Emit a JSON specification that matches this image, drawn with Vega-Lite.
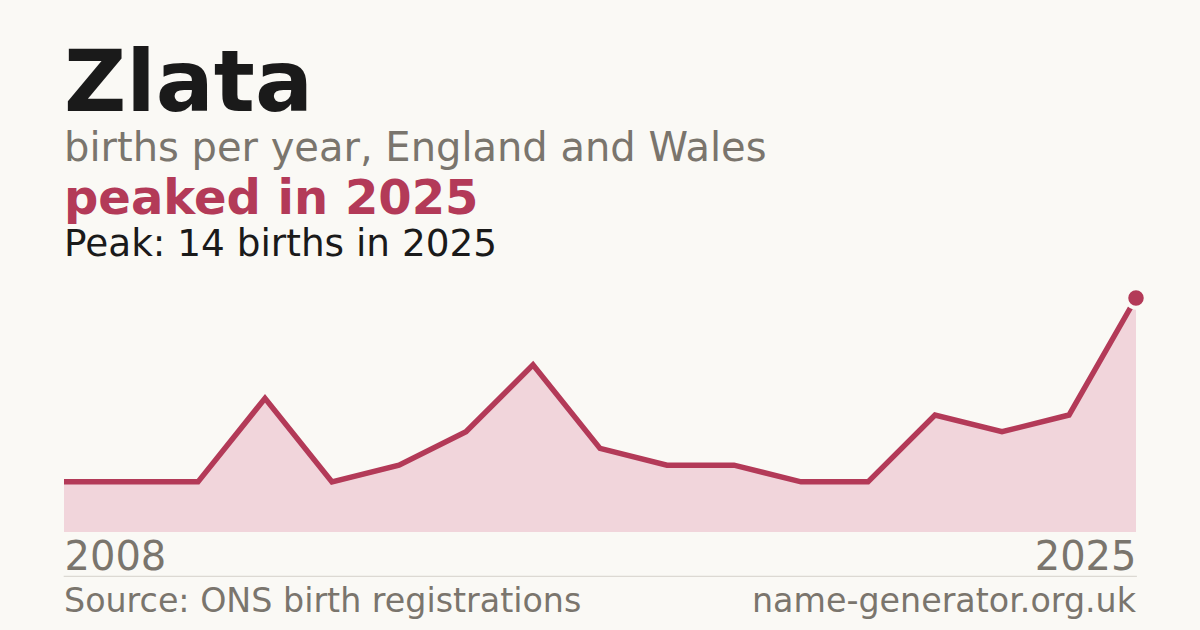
{
  "$schema": "https://vega.github.io/schema/vega-lite/v6.json",
  "description": "Zlata births per year, England and Wales",
  "background": "#faf9f5",
  "padding": {"left": 53, "right": 60, "top": 41, "bottom": 30},
  "config": {
    "view": {"stroke": null},
    "font": "DejaVu Sans"
  },
  "title": {
    "text": "Zlata",
    "subtitle": "births per year, England and Wales",
    "anchor": "start",
    "frame": "group",
    "font": "DejaVu Sans",
    "fontSize": 86,
    "fontWeight": "bold",
    "color": "#1a1a1a",
    "subtitleFont": "DejaVu Sans",
    "subtitleFontSize": 40,
    "subtitleColor": "#7a756d",
    "subtitlePadding": 0,
    "offset": 6
  },
  "datasets": {
    "births": [
      {"year": 2008, "births": 3},
      {"year": 2010, "births": 3},
      {"year": 2011, "births": 3},
      {"year": 2012, "births": 8},
      {"year": 2013, "births": 3},
      {"year": 2014, "births": 4},
      {"year": 2015, "births": 6},
      {"year": 2016, "births": 10},
      {"year": 2017, "births": 5},
      {"year": 2018, "births": 4},
      {"year": 2019, "births": 4},
      {"year": 2020, "births": 3},
      {"year": 2021, "births": 3},
      {"year": 2022, "births": 7},
      {"year": 2023, "births": 6},
      {"year": 2024, "births": 7},
      {"year": 2025, "births": 14}
    ]
  },
  "spacing": 44,
  "bounds": "flush",
  "vconcat": [
    {
      "width": 1072,
      "height": 234,
      "title": {
        "text": "peaked in 2025",
        "subtitle": "Peak: 14 births in 2025",
        "anchor": "start",
        "frame": "group",
        "font": "DejaVu Sans",
        "fontSize": 48,
        "fontWeight": "bold",
        "color": "#b33a58",
        "subtitleFont": "DejaVu Sans",
        "subtitleFontSize": 37.4,
        "subtitleColor": "#1a1a1a",
        "subtitlePadding": 2,
        "offset": 17
      },
      "data": {"name": "births"},
      "encoding": {
        "x": {
          "field": "year",
          "type": "ordinal",
          "scale": {"type": "point", "padding": 0},
          "axis": {
            "title": null,
            "domain": false,
            "ticks": false,
            "tickSize": 0,
            "grid": false,
            "labelAngle": 0,
            "labelFontSize": 40,
            "labelColor": "#7a756d",
            "labelBaseline": "alphabetic",
            "labelPadding": 37,
            "labelOverlap": false,
            "labelExpr": "datum.value == 2008 || datum.value == 2025 ? datum.label : ''",
            "labelAlign": {"condition": {"test": "datum.value == 2008", "value": "left"}, "value": "right"}
          }
        },
        "y": {
          "field": "births",
          "type": "quantitative",
          "scale": {"domain": [0, 14], "nice": false},
          "axis": null
        }
      },
      "layer": [
        {"mark": {"type": "area", "color": "#f1d5db"}},
        {"mark": {"type": "line", "color": "#b33a58", "strokeWidth": 5.5}},
        {
          "transform": [{"filter": "datum.year == 2025"}],
          "mark": {
            "type": "point",
            "shape": "circle",
            "filled": true,
            "size": 380,
            "color": "#b33a58",
            "stroke": "#faf9f5",
            "strokeWidth": 4,
            "opacity": 1
          }
        }
      ]
    },
    {
      "width": 1072,
      "height": 0.01,
      "view": {"stroke": "#dcd9d3", "strokeWidth": 1.2},
      "data": {
        "values": [
          {"side": "left", "label": "Source: ONS birth registrations"},
          {"side": "right", "label": "name-generator.org.uk"}
        ]
      },
      "encoding": {
        "x": {
          "field": "side",
          "type": "nominal",
          "scale": {"type": "point", "padding": 0, "domain": ["left", "right"]},
          "axis": null
        },
        "text": {"field": "label"}
      },
      "layer": [
        {
          "transform": [{"filter": "datum.side == 'left'"}],
          "mark": {"type": "text", "fontSize": 33.3, "color": "#7a756d", "align": "left", "baseline": "alphabetic", "dy": 36}
        },
        {
          "transform": [{"filter": "datum.side == 'right'"}],
          "mark": {"type": "text", "fontSize": 33.3, "color": "#7a756d", "align": "right", "baseline": "alphabetic", "dy": 36}
        }
      ]
    }
  ]
}
